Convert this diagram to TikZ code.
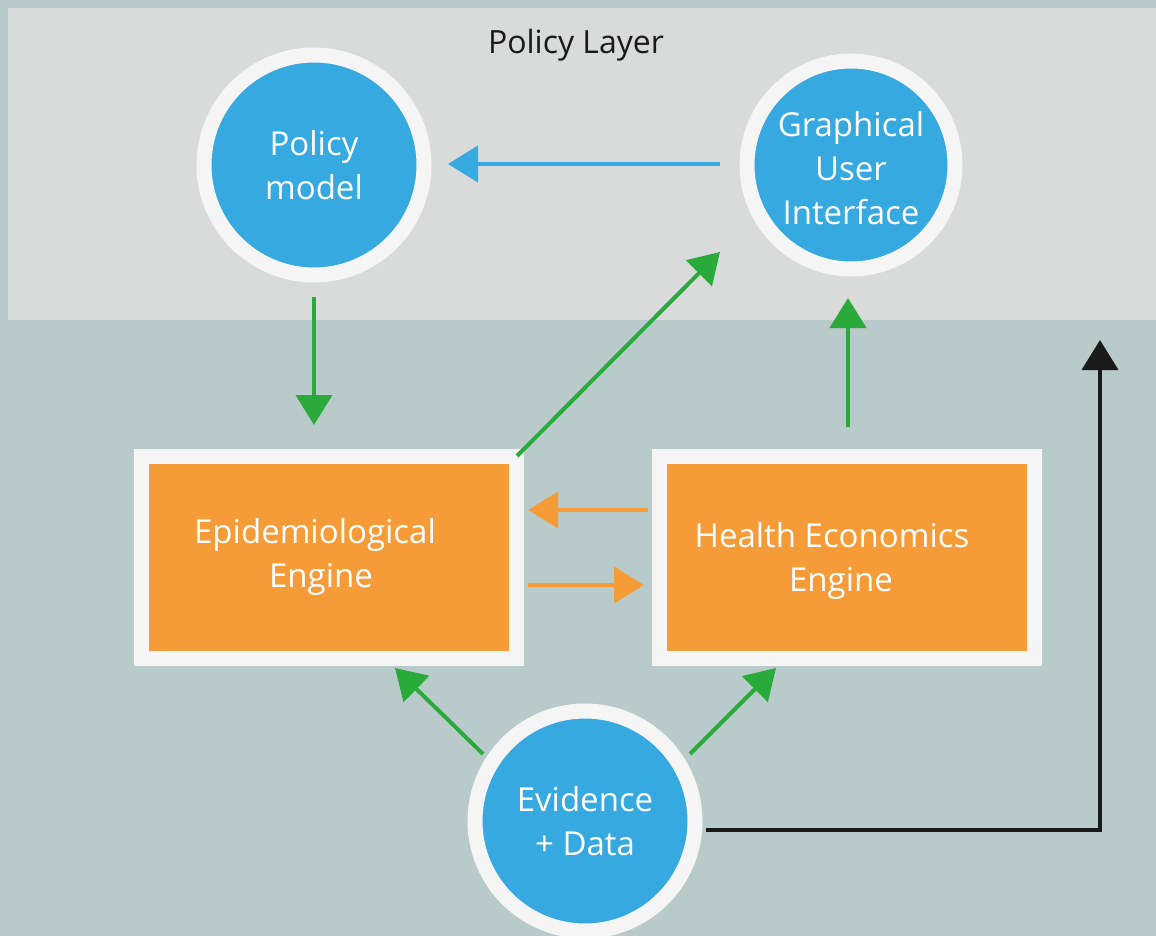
\documentclass[tikz,border=0pt]{standalone}
\usepackage{fontspec}
\setmainfont{Open Sans}
\usetikzlibrary{arrows.meta}
\definecolor{bgc}{HTML}{B9CACA}
\definecolor{panel}{HTML}{D9DBDA}
\definecolor{ring}{HTML}{F5F5F5}
\definecolor{bluec}{HTML}{36A9E0}
\definecolor{orangec}{HTML}{F59B38}
\definecolor{greenc}{HTML}{2AAA3A}
\definecolor{blackc}{HTML}{1A1A1A}
\tikzset{
  circnode/.style={circle, fill=bluec, draw=ring, line width=15pt, text=white, align=center, inner sep=0pt, font=\fontsize{33}{44}\selectfont},
  boxnode/.style={rectangle, fill=orangec, draw=ring, line width=15pt, text=white, inner sep=0pt},
  txt/.style={text=white, align=center, font=\fontsize{33}{44}\selectfont},
  arr/.style={line width=4pt, -{Triangle[length=30pt,width=36pt]}},
  garr/.style={arr, draw=greenc},
}
\begin{document}
\begin{tikzpicture}[x=1pt,y=-1pt]
\useasboundingbox (0,0) rectangle (1156,936);
\fill[bgc] (0,0) rectangle (1156,936);
\fill[panel] (8,8) rectangle (1156,320);
\node[font=\fontsize{32}{36}\selectfont, text=blackc] (title) at (576,45) {Policy Layer};

\node[circnode, minimum size=220pt] (pm) at (314,165) {Policy\\model};
\node[circnode, minimum size=208pt] (gui) at (851,165) {};
\node[txt] (guit) at (851,168) {Graphical\\User\\Interface};
\node[circnode, minimum size=220pt] (ev) at (585,821) {Evidence\\+ Data};

\node[boxnode, minimum width=375pt, minimum height=202pt] (epi) at (329,557.5) {};
\node[txt] (epit) at (315,557) {Epidemiological\\\hspace*{12pt}Engine};
\node[boxnode, minimum width=375pt, minimum height=202pt] (he) at (847,557.5) {};
\node[txt] (het) at (832,561) {Health Economics\\\hspace*{18pt}Engine};

\coordinate (b1s) at (720,164); \coordinate (b1e) at (448,164);
\draw[arr, draw=bluec] (b1s) -- (b1e);

\coordinate (g1s) at (314,297); \coordinate (g1e) at (314,425);
\draw[garr] (g1s) -- (g1e);
\coordinate (g2s) at (517,456); \coordinate (g2e) at (720,252);
\draw[garr] (g2s) -- (g2e);
\coordinate (g3s) at (848,427); \coordinate (g3e) at (848,298);
\draw[garr] (g3s) -- (g3e);
\coordinate (g4s) at (483,754); \coordinate (g4e) at (395,668);
\draw[garr] (g4s) -- (g4e);
\coordinate (g5s) at (690,754); \coordinate (g5e) at (776,668);
\draw[garr] (g5s) -- (g5e);

\coordinate (o1s) at (648,510); \coordinate (o1e) at (528,510);
\draw[arr, draw=orangec] (o1s) -- (o1e);
\coordinate (o2s) at (528,585); \coordinate (o2e) at (644,585);
\draw[arr, draw=orangec] (o2s) -- (o2e);

\coordinate (k1) at (706,830); \coordinate (k2) at (1100,830); \coordinate (k3) at (1100,340);
\draw[arr, draw=blackc] (k1) -- (k2) -- (k3);
\end{tikzpicture}
\end{document}
